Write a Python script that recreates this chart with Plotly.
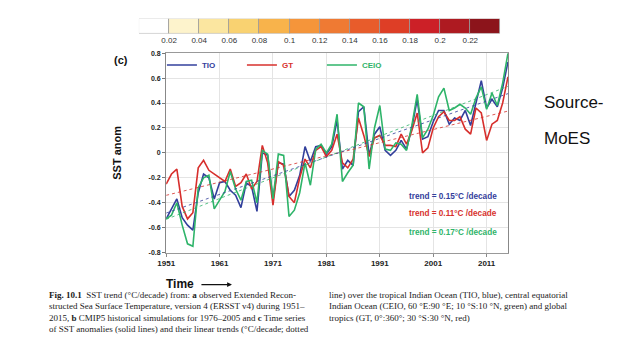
import numpy as np
import plotly.graph_objects as go

# ---------------- data ----------------
years = list(range(1951, 2016))
tio = [-0.53, -0.45, -0.37, -0.52, -0.58, -0.62, -0.32, -0.17, -0.20, -0.37,
       -0.24, -0.23, -0.30, -0.34, -0.44, -0.24, -0.27, -0.47, 0.00, -0.02,
       -0.38, -0.08, -0.09, -0.35, -0.30, -0.18, 0.05, -0.07, 0.05, 0.06,
       -0.01, 0.05, 0.26, -0.13, -0.06, -0.10, 0.33, 0.37, -0.02, 0.15,
       0.21, 0.02, -0.02, 0.02, 0.10, 0.03, 0.20, 0.43, 0.11, 0.13,
       0.25, 0.34, 0.34, 0.23, 0.28, 0.26, 0.34, 0.22, 0.40, 0.58,
       0.36, 0.43, 0.37, 0.52, 0.73]
gt = [-0.25, -0.17, -0.13, -0.43, -0.53, -0.48, -0.12, -0.06, -0.14, -0.17,
      -0.20, -0.23, -0.13, -0.27, -0.24, -0.17, -0.29, -0.23, 0.06, -0.08,
      -0.42, -0.07, -0.10, -0.35, -0.40, -0.20, -0.05, -0.12, 0.02, 0.05,
      -0.03, 0.02, 0.15, -0.08, -0.12, -0.05, 0.28, 0.14, -0.03, 0.12,
      0.14, 0.06, 0.06, 0.05, 0.15, 0.07, 0.18, 0.32, 0.00, 0.04,
      0.20, 0.29, 0.33, 0.26, 0.26, 0.29, 0.19, 0.15, 0.36, 0.32,
      0.10, 0.23, 0.26, 0.40, 0.61]
ceio = [-0.53, -0.50, -0.40, -0.58, -0.73, -0.75, -0.28, -0.20, -0.18, -0.45,
        -0.38, -0.31, -0.15, -0.29, -0.38, -0.23, -0.22, -0.40, 0.02, -0.01,
        -0.37, -0.01, -0.02, -0.51, -0.46, -0.32, -0.08, -0.26, 0.03, 0.07,
        0.00, 0.07, 0.31, -0.23, -0.16, -0.10, 0.40, 0.37, -0.13, 0.20,
        0.38, 0.03, 0.02, 0.08, 0.07, 0.02, 0.22, 0.47, 0.12, 0.19,
        0.30, 0.45, 0.52, 0.34, 0.36, 0.39, 0.36, 0.31, 0.44, 0.53,
        0.35, 0.48, 0.38, 0.56, 0.80]
series_names = ["TIO", "GT", "CEIO"]
trend_labels = ["trend = 0.15°C /decade", "trend = 0.11°C /decade", "trend = 0.17°C /decade"]

cbar_labels = ["0.02", "0.04", "0.06", "0.08", "0.1", "0.12", "0.14",
               "0.16", "0.18", "0.2", "0.22"]
cbar_colors = ["#ffffff", "#fdf3cc", "#fbe6a0", "#f9d271", "#f8b34b", "#f5953a",
               "#ef7a33", "#e85c2b", "#de3e26", "#cc2027", "#ae1a21", "#8c141b"]

# ---------------- styling ----------------
W, H = 640, 360
OFF = 8  # page body margin
def px(x): return (x - OFF) / W
def py(y): return (H - (y - OFF)) / H

BLUE, RED, GREEN = "#33409c", "#d7312d", "#2fb46a"
colors = [BLUE, RED, GREEN]
FONT = "Liberation Sans"

fig = go.Figure()

for name, vals, col in zip(series_names, [tio, gt, ceio], colors):
    fig.add_trace(go.Scatter(
        x=years, y=vals, mode="lines", line=dict(color=col, width=1.6),
        name=f"<span style='color:{col}'><b>{name}</b></span>",
        xaxis="x", yaxis="y"))

yr = np.array(years, dtype=float)
for vals, col in zip([gt, tio, ceio], [RED, BLUE, GREEN]):
    a, b = np.polyfit(yr, np.array(vals), 1)
    fig.add_trace(go.Scatter(
        x=[yr[0], yr[-1]], y=[a * yr[0] + b, a * yr[-1] + b], mode="lines",
        line=dict(color=col, width=1, dash="dot"), opacity=0.8,
        showlegend=False, xaxis="x", yaxis="y"))

fig.add_trace(go.Bar(
    x=list(range(len(cbar_colors))), y=[1] * len(cbar_colors),
    marker=dict(color=cbar_colors, line=dict(color="#9a9a9a", width=0.8)),
    width=1.0, showlegend=False, xaxis="x2", yaxis="y2"))

fig.update_layout(
    width=W, height=H, margin=dict(l=0, r=0, t=0, b=0),
    paper_bgcolor="white", plot_bgcolor="white",
    font=dict(family=FONT, color="#222"),
    bargap=0,
    xaxis=dict(domain=[px(159.3), px(506)], range=[1951, 2015],
               tickvals=[1951, 1961, 1971, 1981, 1991, 2001, 2011],
               ticks="outside", ticklen=3, tickcolor="#888",
               tickfont=dict(size=8, family=FONT, color="#222", weight="bold"),
               showgrid=True, gridcolor="#e4e4e4", gridwidth=1,
               showline=True, linecolor="#999", linewidth=1, mirror=True,
               zeroline=False),
    yaxis=dict(domain=[py(253.3), py(50)], range=[-0.8, 0.8],
               tickvals=[-0.8, -0.6, -0.4, -0.2, 0, 0.2, 0.4, 0.6, 0.8],
               ticktext=["-0.8", "-0.6", "-0.4", "-0.2", "0", "0.2", "0.4", "0.6", "0.8"],
               ticks="outside", ticklen=3, tickcolor="#777",
               tickfont=dict(size=7, family=FONT, color="#222", weight="bold"),
               showgrid=True, gridcolor="#e4e4e4", gridwidth=1,
               showline=True, linecolor="#888", linewidth=1.2, mirror=True,
               zeroline=False,
               title=dict(text="<b>SST anom</b>", font=dict(size=11, family=FONT, color="#111"),
                          standoff=24)),
    xaxis2=dict(domain=[px(131.7), px(498.3)], range=[-0.5, 11.5],
                tickvals=[i + 0.5 for i in range(len(cbar_labels))], ticktext=cbar_labels,
                ticks="", tickfont=dict(size=8, family=FONT, color="#333"),
                showgrid=False, zeroline=False, showline=False, anchor="y2"),
    yaxis2=dict(domain=[py(30), py(15)], range=[0, 1], visible=False, anchor="x2"),
    legend=dict(orientation="h", x=px(155), y=py(62), xanchor="left", yanchor="middle",
                font=dict(size=8, family=FONT), bgcolor="rgba(0,0,0,0)",
                entrywidth=35, entrywidthmode="pixels", itemwidth=30,
                tracegroupgap=0),
)

ann = []
ann.append(dict(x=px(113), y=py(57), xref="paper", yref="paper", text="<b>(c)</b>",
                showarrow=False, font=dict(size=11, family=FONT, color="#111"),
                xanchor="center", yanchor="middle"))
for txt, col, yy in zip(trend_labels, colors, [196, 213, 233]):
    ann.append(dict(x=px(497), y=py(yy), xref="paper", yref="paper",
                    text=f"<b>{txt}</b>", showarrow=False,
                    font=dict(size=8.2, family=FONT, color=col),
                    xanchor="right", yanchor="middle"))
ann.append(dict(x=px(157), y=py(285), xref="paper", yref="paper", text="<b>Time</b>",
                showarrow=False, font=dict(size=12, family=FONT, color="#111"),
                xanchor="left", yanchor="middle"))
ann.append(dict(x=px(226), y=py(286), xref="paper", yref="paper", text="",
                showarrow=True, arrowhead=2, arrowsize=0.8, arrowwidth=1.2,
                arrowcolor="#111", ax=-32, ay=0))
ann.append(dict(x=px(540), y=py(100), xref="paper", yref="paper", text="Source-",
                showarrow=False, font=dict(size=17, family=FONT, color="#111"),
                xanchor="left", yanchor="middle"))
ann.append(dict(x=px(540), y=py(137), xref="paper", yref="paper", text="MoES",
                showarrow=False, font=dict(size=17, family=FONT, color="#111"),
                xanchor="left", yanchor="middle"))
left_lines = [
    "<b>Fig. 10.1</b>  SST trend (°C/decade) from: <b>a</b> observed Extended Recon-",
    "structed Sea Surface Temperature, version 4 (ERSST v4) during 1951–",
    "2015, <b>b</b> CMIP5 historical simulations for 1976–2005 and <b>c</b> Time series",
    "of SST anomalies (solid lines) and their linear trends (°C/decade; dotted",
]
right_lines = [
    "line) over the tropical Indian Ocean (TIO, blue), central equatorial",
    "Indian Ocean (CEIO, 60 °E:90 °E; 10 °S:10 °N, green) and global",
    "tropics (GT, 0°:360°; 30 °S:30 °N, red)",
]
for i, t in enumerate(left_lines):
    ann.append(dict(x=px(38), y=py(297 + i * 11.3), xref="paper", yref="paper", text=t,
                    showarrow=False, font=dict(size=9, family="Liberation Serif", color="#222"),
                    xanchor="left", yanchor="middle"))
for i, t in enumerate(right_lines):
    ann.append(dict(x=px(322), y=py(297 + i * 11.3), xref="paper", yref="paper", text=t,
                    showarrow=False, font=dict(size=9, family="Liberation Serif", color="#222"),
                    xanchor="left", yanchor="middle"))
fig.update_layout(annotations=ann)

fig.write_html("out.html")
